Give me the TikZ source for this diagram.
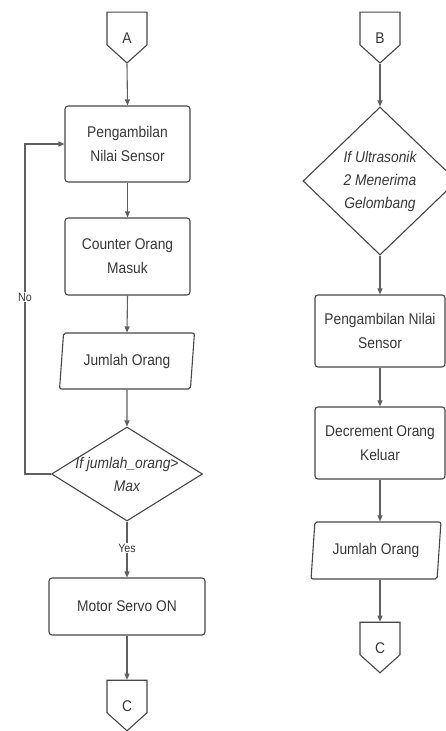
\documentclass[tikz,border=0pt]{standalone}
\usepackage{fontspec}
\setmainfont{Liberation Sans}[FakeStretch=0.89]
\usetikzlibrary{arrows.meta, shapes.geometric, shapes.symbols}
\definecolor{lineColor}{RGB}{95,95,95}
\definecolor{boxColor}{RGB}{70,70,70}
\definecolor{textColor}{RGB}{55,55,55}

\begin{document}
\begin{tikzpicture}[x=1pt, y=-1pt,
    font=\fontsize{15.5}{24}\selectfont, text=textColor,
    proses/.style={draw=boxColor, line width=1.1pt, rounded corners=3pt, align=center, inner sep=2pt},
    data/.style={trapezium, trapezium left angle=82, trapezium right angle=98, trapezium stretches=true,
        draw=boxColor, line width=1.1pt, rounded corners=2pt, minimum height=56pt},
    kondisi/.style={diamond, draw=boxColor, line width=1.1pt, align=center,
        font=\fontsize{15.5}{23}\selectfont\itshape},
    konektor/.style={signal, signal to=south, signal pointer angle=96, draw=boxColor, line width=1.1pt,
        minimum width=40pt, minimum height=37pt, inner sep=0pt, text height=29pt, text depth=0pt},
    alur/.style={draw=lineColor, line width=1.1pt, -{Triangle[length=6pt,width=5pt]}},
    ket/.style={fill=white, inner sep=1pt, font=\fontsize{12}{14}\selectfont}]
    \useasboundingbox (0,0) rectangle (446,731);
    \clip (0,0) rectangle (446,731);

    % Kolom kiri
    \node[konektor] (A) at (127,28.5) {A};
    \node[proses, minimum width=125pt, minimum height=76pt] (ambil1) at (127.5,144) {Pengambilan\\Nilai Sensor};
    \node[proses, minimum width=125pt, minimum height=77pt] (hitung) at (127.5,256.5) {Counter Orang\\Masuk};
    \node[data, minimum width=136pt] (jumlah1) at (127,361) {Jumlah Orang};
    \node[kondisi, aspect=1.6, inner sep=-2.7pt, minimum width=151pt, minimum height=94pt] (cek1) at (127,474) {If jumlah\_orang>\\Max};
    \node[proses, minimum width=156pt, minimum height=57pt] (servo) at (127,606.5) {Motor Servo ON};
    \node[konektor] (C1) at (127,696.5) {C};

    \draw[alur] (A.south) -- (ambil1.north);
    \draw[alur] (ambil1.south) -- (hitung.north);
    \draw[alur] (hitung.south) -- (jumlah1.north);
    \draw[alur] (jumlah1.south) -- (cek1.north);
    \draw[alur] (cek1.south) -- (servo.north);
    \draw[alur] (servo.south) -- (C1.north);

    % Loop "No"
    \coordinate (belok) at (25,474);
    \draw[alur] (cek1.west) -- (belok) |- (ambil1.west);
    \node[ket] (no) at (25,297) {No};
    \node[ket] (yes) at (127,548) {Yes};

    % Kolom kanan
    \node[konektor] (B) at (380,28.5) {B};
    \node[kondisi, minimum width=154pt, minimum height=148pt] (cek2) at (380,181) {If Ultrasonik\\2 Menerima\\Gelombang};
    \node[proses, minimum width=130pt, minimum height=72pt] (ambil2) at (380,331) {Pengambilan Nilai\\Sensor};
    \node[proses, minimum width=130pt, minimum height=72pt] (kurang) at (380,443) {Decrement Orang\\Keluar};
    \node[data, minimum width=131pt, minimum height=57pt] (jumlah2) at (376,550.5) {Jumlah Orang};
    \node[konektor] (C2) at (380,638.5) {C};

    \draw[alur] (B.south) -- (cek2.north);
    \draw[alur] (cek2.south) -- (ambil2.north);
    \draw[alur] (ambil2.south) -- (kurang.north);
    \draw[alur] (kurang.south) -- (kurang.south |- jumlah2.north);
    \draw[alur] (C2.north |- jumlah2.south) -- (C2.north);
\end{tikzpicture}
\end{document}
